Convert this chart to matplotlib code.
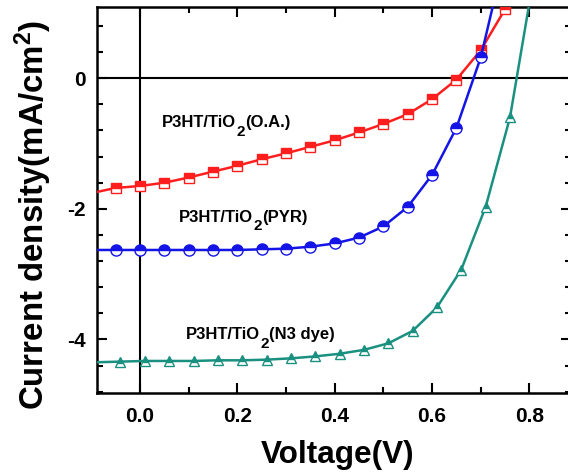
import matplotlib
matplotlib.use("Agg")
import matplotlib.pyplot as plt
from matplotlib.ticker import MultipleLocator, AutoMinorLocator, FormatStrFormatter

plt.rcParams['font.family'] = ['Liberation Sans', 'DejaVu Sans']
plt.rcParams['font.weight'] = 'bold'
plt.rcParams['mathtext.fontset'] = 'custom'
plt.rcParams['mathtext.rm'] = 'Liberation Sans:bold'
plt.rcParams['mathtext.default'] = 'rm'
plt.rcParams['axes.unicode_minus'] = False

# J-V curves; first/last entries only extend the line, markers skip them
v_oa = [-0.10, -0.05, 0.00, 0.05, 0.10, 0.15, 0.20, 0.25, 0.30, 0.35,
        0.40, 0.45, 0.50, 0.55, 0.60, 0.65, 0.70, 0.75]
j_oa = [-1.76, -1.68, -1.65, -1.60, -1.52, -1.43, -1.34, -1.24, -1.15, -1.05,
        -0.95, -0.83, -0.70, -0.55, -0.32, -0.02, 0.43, 1.06]

v_pyr = [-0.10, -0.05, 0.00, 0.05, 0.10, 0.15, 0.20, 0.25, 0.30, 0.35,
         0.40, 0.45, 0.50, 0.55, 0.60, 0.65, 0.70, 0.75]
j_pyr = [-2.63, -2.63, -2.63, -2.63, -2.63, -2.63, -2.63, -2.62, -2.61, -2.58,
         -2.53, -2.44, -2.27, -1.97, -1.48, -0.76, 0.32, 1.90]

v_n3 = [-0.09, -0.04, 0.01, 0.06, 0.11, 0.16, 0.21, 0.26, 0.31, 0.36,
        0.41, 0.46, 0.51, 0.56, 0.61, 0.66, 0.71, 0.76, 0.81]
j_n3 = [-4.35, -4.34, -4.33, -4.33, -4.33, -4.32, -4.32, -4.31, -4.29, -4.26,
        -4.22, -4.16, -4.06, -3.87, -3.51, -2.93, -1.97, -0.60, 1.60]

# label text split around the subscript: (before, sub, after)
labels = [('P3HT/TiO', '2', '(O.A.)'),
          ('P3HT/TiO', '2', '(PYR)'),
          ('P3HT/TiO', '2', '(N3 dye)')]
label_pos = [(0.045, -0.75), (0.080, -2.20), (0.094, -4.00)]

fig = plt.figure(figsize=(5.68, 4.74), dpi=100)
ax = fig.add_axes([0.171, 0.171, 0.834, 0.814])

ax.axhline(0, color='black', lw=1.5, zorder=1)
ax.axvline(0, color='black', lw=1.5, zorder=1)

series = [
    (v_oa, j_oa, '#ff1e1e', 's', 7.5, slice(1, None)),
    (v_pyr, j_pyr, '#1414e6', 'o', 8, slice(1, -1)),
    (v_n3, j_n3, '#1a9080', '^', 7.5, slice(1, -1)),
]
for v, j, c, m, ms, every in series:
    ax.plot(v, j, color=c, lw=1.8, marker=m, ms=ms, markevery=every,
            fillstyle='top', markerfacecolor=c, markerfacecoloralt='white',
            markeredgecolor=c, markeredgewidth=1.0, zorder=3)

fs = 12
for (pre, sub, post), (x, y) in zip(labels, label_pos):
    t1 = ax.text(x, y, pre, fontsize=fs, fontweight='bold',
                 ha='left', va='baseline')
    t2 = ax.annotate(sub, xy=(1, 0), xycoords=t1, xytext=(0.3, -6),
                     textcoords='offset points', fontsize=fs * 0.92,
                     fontweight='bold', ha='left', va='bottom')
    ax.annotate(post, xy=(1, 0), xycoords=t2, xytext=(0.3, 6),
                textcoords='offset points', fontsize=fs,
                fontweight='bold', ha='left', va='bottom')

ax.set_xlim(-0.088, 0.885)
ax.set_ylim(-4.82, 1.09)
ax.xaxis.set_major_locator(MultipleLocator(0.2))
ax.xaxis.set_minor_locator(MultipleLocator(0.1))
ax.yaxis.set_major_locator(MultipleLocator(2))
ax.yaxis.set_minor_locator(AutoMinorLocator(5))
ax.xaxis.set_major_formatter(FormatStrFormatter('%.1f'))
ax.tick_params(which='both', direction='in', top=True, right=True, width=1.5,
               labelsize=15)
ax.tick_params(which='major', length=7)
ax.tick_params(which='minor', length=4)
ax.tick_params(axis='x', which='major', pad=10)
ax.tick_params(axis='y', which='major', pad=8)
for s in ax.spines.values():
    s.set_linewidth(1.8)

ax.set_xlabel('Voltage(V)', fontsize=22.7, fontweight='bold')
ax.set_ylabel('Current density(mA/cm$^2$)', fontsize=23.8, fontweight='bold')
ax.xaxis.set_label_coords(0.507, -0.122)
ax.yaxis.set_label_coords(-0.09, 0.461)

fig.savefig('out.png', dpi=100)
